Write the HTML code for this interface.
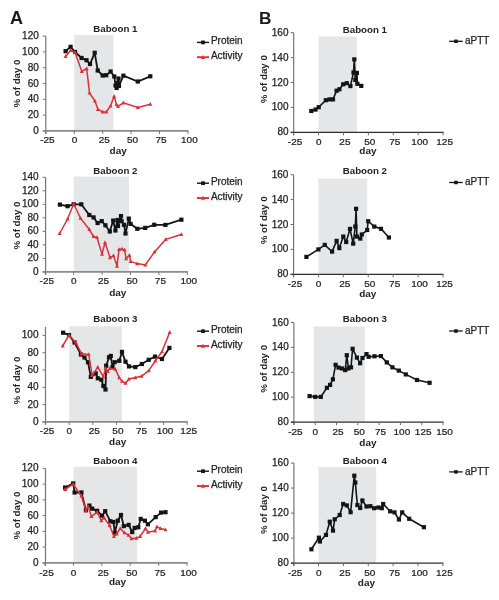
<!DOCTYPE html>
<html><head><meta charset="utf-8"><style>
html,body{margin:0;padding:0;background:#fff;}
svg{display:block;font-family:"Liberation Sans", sans-serif;will-change:transform;}
</style></head><body>
<svg width="499" height="600" viewBox="0 0 499 600">
<rect width="499" height="600" fill="#fff"/>
<rect x="74.30" y="35.00" width="39.10" height="95.90" fill="#e5e6e8"/>
<line x1="45.80" y1="36.10" x2="45.80" y2="133.90" stroke="#767676" stroke-width="1.2"/>
<line x1="42.80" y1="130.90" x2="45.80" y2="130.90" stroke="#767676" stroke-width="1"/>
<text transform="translate(38.80,133.90) scale(1,1)" font-size="10" font-weight="normal" text-anchor="end" fill="#222222" stroke="#222222" stroke-width="0.25" >0</text>
<line x1="42.80" y1="115.10" x2="45.80" y2="115.10" stroke="#767676" stroke-width="1"/>
<text transform="translate(38.80,118.10) scale(1,1)" font-size="10" font-weight="normal" text-anchor="end" fill="#222222" stroke="#222222" stroke-width="0.25" >20</text>
<line x1="42.80" y1="99.30" x2="45.80" y2="99.30" stroke="#767676" stroke-width="1"/>
<text transform="translate(38.80,102.30) scale(1,1)" font-size="10" font-weight="normal" text-anchor="end" fill="#222222" stroke="#222222" stroke-width="0.25" >40</text>
<line x1="42.80" y1="83.50" x2="45.80" y2="83.50" stroke="#767676" stroke-width="1"/>
<text transform="translate(38.80,86.50) scale(1,1)" font-size="10" font-weight="normal" text-anchor="end" fill="#222222" stroke="#222222" stroke-width="0.25" >60</text>
<line x1="42.80" y1="67.70" x2="45.80" y2="67.70" stroke="#767676" stroke-width="1"/>
<text transform="translate(38.80,70.70) scale(1,1)" font-size="10" font-weight="normal" text-anchor="end" fill="#222222" stroke="#222222" stroke-width="0.25" >80</text>
<line x1="42.80" y1="51.90" x2="45.80" y2="51.90" stroke="#767676" stroke-width="1"/>
<text transform="translate(38.80,54.90) scale(1,1)" font-size="10" font-weight="normal" text-anchor="end" fill="#222222" stroke="#222222" stroke-width="0.25" >100</text>
<line x1="42.80" y1="36.10" x2="45.80" y2="36.10" stroke="#767676" stroke-width="1"/>
<text transform="translate(38.80,39.10) scale(1,1)" font-size="10" font-weight="normal" text-anchor="end" fill="#222222" stroke="#222222" stroke-width="0.25" >120</text>
<line x1="42.80" y1="130.90" x2="188.40" y2="130.90" stroke="#8a8a8a" stroke-width="1.8"/>
<line x1="45.90" y1="130.90" x2="45.90" y2="133.90" stroke="#767676" stroke-width="1"/>
<text transform="translate(47.40,143.20) scale(1,0.95)" font-size="10" font-weight="normal" text-anchor="middle" fill="#222222" stroke="#222222" stroke-width="0.25" >-25</text>
<line x1="74.30" y1="130.90" x2="74.30" y2="133.90" stroke="#767676" stroke-width="1"/>
<text transform="translate(74.50,143.20) scale(1,0.95)" font-size="10" font-weight="normal" text-anchor="middle" fill="#222222" stroke="#222222" stroke-width="0.25" >0</text>
<line x1="102.70" y1="130.90" x2="102.70" y2="133.90" stroke="#767676" stroke-width="1"/>
<text transform="translate(104.20,143.20) scale(1,0.95)" font-size="10" font-weight="normal" text-anchor="middle" fill="#222222" stroke="#222222" stroke-width="0.25" >25</text>
<line x1="131.10" y1="130.90" x2="131.10" y2="133.90" stroke="#767676" stroke-width="1"/>
<text transform="translate(132.60,143.20) scale(1,0.95)" font-size="10" font-weight="normal" text-anchor="middle" fill="#222222" stroke="#222222" stroke-width="0.25" >50</text>
<line x1="159.50" y1="130.90" x2="159.50" y2="133.90" stroke="#767676" stroke-width="1"/>
<text transform="translate(161.00,143.20) scale(1,0.95)" font-size="10" font-weight="normal" text-anchor="middle" fill="#222222" stroke="#222222" stroke-width="0.25" >75</text>
<line x1="187.90" y1="130.90" x2="187.90" y2="133.90" stroke="#767676" stroke-width="1"/>
<text transform="translate(189.40,143.20) scale(1,0.95)" font-size="10" font-weight="normal" text-anchor="middle" fill="#222222" stroke="#222222" stroke-width="0.25" >100</text>
<text transform="translate(118.15,154.00) scale(1,0.95)" font-size="10" font-weight="bold" text-anchor="middle" fill="#222222" >day</text>
<text transform="translate(19.80,83.50) rotate(-90) scale(1,0.95)" font-size="9.7" font-weight="bold" text-anchor="middle" fill="#222222">% of day 0</text>
<text transform="translate(93.30,32.20) scale(1,1)" font-size="9.7" font-weight="bold" text-anchor="start" fill="#222222" >Baboon 1</text>
<polyline points="65.6,51.2 70.6,46.8 75.0,52.0 81.6,58.0 86.5,60.2 90.0,64.0 94.7,52.8 97.7,70.5 102.7,75.5 106.2,75.2 110.6,71.5 114.3,76.5 115.5,85.5 116.6,88.0 117.5,83.0 118.5,78.5 119.0,86.0 123.4,75.7 137.8,81.5 150.3,76.3" fill="none" stroke="#141414" stroke-width="1.8" stroke-linejoin="miter" stroke-miterlimit="3"/>
<rect x="63.50" y="49.10" width="4.20" height="4.20" fill="#141414"/>
<rect x="68.50" y="44.70" width="4.20" height="4.20" fill="#141414"/>
<rect x="72.90" y="49.90" width="4.20" height="4.20" fill="#141414"/>
<rect x="79.50" y="55.90" width="4.20" height="4.20" fill="#141414"/>
<rect x="84.40" y="58.10" width="4.20" height="4.20" fill="#141414"/>
<rect x="87.90" y="61.90" width="4.20" height="4.20" fill="#141414"/>
<rect x="92.60" y="50.70" width="4.20" height="4.20" fill="#141414"/>
<rect x="95.60" y="68.40" width="4.20" height="4.20" fill="#141414"/>
<rect x="100.60" y="73.40" width="4.20" height="4.20" fill="#141414"/>
<rect x="104.10" y="73.10" width="4.20" height="4.20" fill="#141414"/>
<rect x="108.50" y="69.40" width="4.20" height="4.20" fill="#141414"/>
<rect x="112.20" y="74.40" width="4.20" height="4.20" fill="#141414"/>
<rect x="113.40" y="83.40" width="4.20" height="4.20" fill="#141414"/>
<rect x="114.50" y="85.90" width="4.20" height="4.20" fill="#141414"/>
<rect x="115.40" y="80.90" width="4.20" height="4.20" fill="#141414"/>
<rect x="116.40" y="76.40" width="4.20" height="4.20" fill="#141414"/>
<rect x="116.90" y="83.90" width="4.20" height="4.20" fill="#141414"/>
<rect x="121.30" y="73.60" width="4.20" height="4.20" fill="#141414"/>
<rect x="135.70" y="79.40" width="4.20" height="4.20" fill="#141414"/>
<rect x="148.20" y="74.20" width="4.20" height="4.20" fill="#141414"/>
<polyline points="65.5,56.5 70.6,50.5 75.0,52.3 81.8,71.5 86.7,68.6 89.5,93.0 94.9,101.0 97.9,109.3 102.7,111.9 106.3,111.9 110.5,105.9 114.1,96.3 116.5,104.5 118.0,106.3 123.3,102.8 137.9,107.5 150.4,104.2" fill="none" stroke="#d9313b" stroke-width="1.5" stroke-linejoin="miter" stroke-miterlimit="3"/>
<polygon points="63.50,58.10 67.50,58.10 65.50,54.30" fill="#d9313b"/>
<polygon points="68.60,52.10 72.60,52.10 70.60,48.30" fill="#d9313b"/>
<polygon points="73.00,53.90 77.00,53.90 75.00,50.10" fill="#d9313b"/>
<polygon points="79.80,73.10 83.80,73.10 81.80,69.30" fill="#d9313b"/>
<polygon points="84.70,70.20 88.70,70.20 86.70,66.40" fill="#d9313b"/>
<polygon points="87.50,94.60 91.50,94.60 89.50,90.80" fill="#d9313b"/>
<polygon points="92.90,102.60 96.90,102.60 94.90,98.80" fill="#d9313b"/>
<polygon points="95.90,110.90 99.90,110.90 97.90,107.10" fill="#d9313b"/>
<polygon points="100.70,113.50 104.70,113.50 102.70,109.70" fill="#d9313b"/>
<polygon points="104.30,113.50 108.30,113.50 106.30,109.70" fill="#d9313b"/>
<polygon points="108.50,107.50 112.50,107.50 110.50,103.70" fill="#d9313b"/>
<polygon points="112.10,97.90 116.10,97.90 114.10,94.10" fill="#d9313b"/>
<polygon points="114.50,106.10 118.50,106.10 116.50,102.30" fill="#d9313b"/>
<polygon points="116.00,107.90 120.00,107.90 118.00,104.10" fill="#d9313b"/>
<polygon points="121.30,104.40 125.30,104.40 123.30,100.60" fill="#d9313b"/>
<polygon points="135.90,109.10 139.90,109.10 137.90,105.30" fill="#d9313b"/>
<polygon points="148.40,105.80 152.40,105.80 150.40,102.00" fill="#d9313b"/>
<line x1="197" y1="42.4" x2="209" y2="42.4" stroke="#141414" stroke-width="1.4"/>
<rect x="201.15" y="40.55" width="3.70" height="3.70" fill="#141414"/>
<text transform="translate(210.9,44.10) scale(1,1)" font-size="10" font-weight="normal" text-anchor="start" fill="#222222" stroke="#222222" stroke-width="0.25" >Protein</text>
<line x1="197" y1="57.2" x2="209" y2="57.2" stroke="#d9313b" stroke-width="1.9"/>
<polygon points="200.90,58.88 205.10,58.88 203.00,54.89" fill="#d9313b"/>
<text transform="translate(210.9,58.90) scale(1,1)" font-size="10" font-weight="normal" text-anchor="start" fill="#222222" stroke="#222222" stroke-width="0.25" >Activity</text>
<rect x="73.70" y="176.60" width="55.30" height="95.30" fill="#e5e6e8"/>
<line x1="45.60" y1="177.30" x2="45.60" y2="274.90" stroke="#767676" stroke-width="1.2"/>
<line x1="42.60" y1="271.90" x2="45.60" y2="271.90" stroke="#767676" stroke-width="1"/>
<text transform="translate(38.60,274.90) scale(1,1)" font-size="10" font-weight="normal" text-anchor="end" fill="#222222" stroke="#222222" stroke-width="0.25" >0</text>
<line x1="42.60" y1="258.39" x2="45.60" y2="258.39" stroke="#767676" stroke-width="1"/>
<text transform="translate(38.60,261.39) scale(1,1)" font-size="10" font-weight="normal" text-anchor="end" fill="#222222" stroke="#222222" stroke-width="0.25" >20</text>
<line x1="42.60" y1="244.87" x2="45.60" y2="244.87" stroke="#767676" stroke-width="1"/>
<text transform="translate(38.60,247.87) scale(1,1)" font-size="10" font-weight="normal" text-anchor="end" fill="#222222" stroke="#222222" stroke-width="0.25" >40</text>
<line x1="42.60" y1="231.36" x2="45.60" y2="231.36" stroke="#767676" stroke-width="1"/>
<text transform="translate(38.60,234.36) scale(1,1)" font-size="10" font-weight="normal" text-anchor="end" fill="#222222" stroke="#222222" stroke-width="0.25" >60</text>
<line x1="42.60" y1="217.84" x2="45.60" y2="217.84" stroke="#767676" stroke-width="1"/>
<text transform="translate(38.60,220.84) scale(1,1)" font-size="10" font-weight="normal" text-anchor="end" fill="#222222" stroke="#222222" stroke-width="0.25" >80</text>
<line x1="42.60" y1="204.33" x2="45.60" y2="204.33" stroke="#767676" stroke-width="1"/>
<text transform="translate(38.60,207.33) scale(1,1)" font-size="10" font-weight="normal" text-anchor="end" fill="#222222" stroke="#222222" stroke-width="0.25" >100</text>
<line x1="42.60" y1="190.82" x2="45.60" y2="190.82" stroke="#767676" stroke-width="1"/>
<text transform="translate(38.60,193.82) scale(1,1)" font-size="10" font-weight="normal" text-anchor="end" fill="#222222" stroke="#222222" stroke-width="0.25" >120</text>
<line x1="42.60" y1="177.30" x2="45.60" y2="177.30" stroke="#767676" stroke-width="1"/>
<text transform="translate(38.60,180.30) scale(1,1)" font-size="10" font-weight="normal" text-anchor="end" fill="#222222" stroke="#222222" stroke-width="0.25" >140</text>
<line x1="42.60" y1="271.90" x2="187.80" y2="271.90" stroke="#8a8a8a" stroke-width="1.8"/>
<line x1="45.30" y1="271.90" x2="45.30" y2="274.90" stroke="#767676" stroke-width="1"/>
<text transform="translate(46.80,284.40) scale(1,0.95)" font-size="10" font-weight="normal" text-anchor="middle" fill="#222222" stroke="#222222" stroke-width="0.25" >-25</text>
<line x1="73.70" y1="271.90" x2="73.70" y2="274.90" stroke="#767676" stroke-width="1"/>
<text transform="translate(73.90,284.40) scale(1,0.95)" font-size="10" font-weight="normal" text-anchor="middle" fill="#222222" stroke="#222222" stroke-width="0.25" >0</text>
<line x1="102.10" y1="271.90" x2="102.10" y2="274.90" stroke="#767676" stroke-width="1"/>
<text transform="translate(103.60,284.40) scale(1,0.95)" font-size="10" font-weight="normal" text-anchor="middle" fill="#222222" stroke="#222222" stroke-width="0.25" >25</text>
<line x1="130.50" y1="271.90" x2="130.50" y2="274.90" stroke="#767676" stroke-width="1"/>
<text transform="translate(132.00,284.40) scale(1,0.95)" font-size="10" font-weight="normal" text-anchor="middle" fill="#222222" stroke="#222222" stroke-width="0.25" >50</text>
<line x1="158.90" y1="271.90" x2="158.90" y2="274.90" stroke="#767676" stroke-width="1"/>
<text transform="translate(160.40,284.40) scale(1,0.95)" font-size="10" font-weight="normal" text-anchor="middle" fill="#222222" stroke="#222222" stroke-width="0.25" >75</text>
<line x1="187.30" y1="271.90" x2="187.30" y2="274.90" stroke="#767676" stroke-width="1"/>
<text transform="translate(188.80,284.40) scale(1,0.95)" font-size="10" font-weight="normal" text-anchor="middle" fill="#222222" stroke="#222222" stroke-width="0.25" >100</text>
<text transform="translate(117.75,296.00) scale(1,0.95)" font-size="10" font-weight="bold" text-anchor="middle" fill="#222222" >day</text>
<text transform="translate(19.80,225.60) rotate(-90) scale(1,0.95)" font-size="9.7" font-weight="bold" text-anchor="middle" fill="#222222">% of day 0</text>
<text transform="translate(93.30,173.50) scale(1,1)" font-size="9.7" font-weight="bold" text-anchor="start" fill="#222222" >Baboon 2</text>
<polyline points="59.9,204.6 67.6,206.2 73.7,204.3 81.3,204.3 89.3,215.0 93.6,217.4 97.6,223.0 101.7,221.1 105.4,225.3 109.8,231.5 113.2,220.6 115.4,230.5 117.4,220.0 118.0,226.0 121.0,216.1 121.6,221.2 124.0,224.8 125.5,233.5 128.8,218.6 130.6,223.9 137.3,228.8 145.2,227.9 154.2,224.8 165.4,224.9 181.4,219.7" fill="none" stroke="#141414" stroke-width="1.8" stroke-linejoin="miter" stroke-miterlimit="3"/>
<rect x="57.80" y="202.50" width="4.20" height="4.20" fill="#141414"/>
<rect x="65.50" y="204.10" width="4.20" height="4.20" fill="#141414"/>
<rect x="71.60" y="202.20" width="4.20" height="4.20" fill="#141414"/>
<rect x="79.20" y="202.20" width="4.20" height="4.20" fill="#141414"/>
<rect x="87.20" y="212.90" width="4.20" height="4.20" fill="#141414"/>
<rect x="91.50" y="215.30" width="4.20" height="4.20" fill="#141414"/>
<rect x="95.50" y="220.90" width="4.20" height="4.20" fill="#141414"/>
<rect x="99.60" y="219.00" width="4.20" height="4.20" fill="#141414"/>
<rect x="103.30" y="223.20" width="4.20" height="4.20" fill="#141414"/>
<rect x="107.70" y="229.40" width="4.20" height="4.20" fill="#141414"/>
<rect x="111.10" y="218.50" width="4.20" height="4.20" fill="#141414"/>
<rect x="113.30" y="228.40" width="4.20" height="4.20" fill="#141414"/>
<rect x="115.30" y="217.90" width="4.20" height="4.20" fill="#141414"/>
<rect x="115.90" y="223.90" width="4.20" height="4.20" fill="#141414"/>
<rect x="118.90" y="214.00" width="4.20" height="4.20" fill="#141414"/>
<rect x="119.50" y="219.10" width="4.20" height="4.20" fill="#141414"/>
<rect x="121.90" y="222.70" width="4.20" height="4.20" fill="#141414"/>
<rect x="123.40" y="231.40" width="4.20" height="4.20" fill="#141414"/>
<rect x="126.70" y="216.50" width="4.20" height="4.20" fill="#141414"/>
<rect x="128.50" y="221.80" width="4.20" height="4.20" fill="#141414"/>
<rect x="135.20" y="226.70" width="4.20" height="4.20" fill="#141414"/>
<rect x="143.10" y="225.80" width="4.20" height="4.20" fill="#141414"/>
<rect x="152.10" y="222.70" width="4.20" height="4.20" fill="#141414"/>
<rect x="163.30" y="222.80" width="4.20" height="4.20" fill="#141414"/>
<rect x="179.30" y="217.60" width="4.20" height="4.20" fill="#141414"/>
<polyline points="59.6,233.5 67.6,219.0 73.7,203.8 80.5,218.2 89.3,229.5 93.5,236.5 97.0,237.5 102.0,254.1 105.0,242.5 110.0,257.6 113.5,255.6 117.0,266.1 119.0,249.5 122.0,249.0 124.6,250.0 126.1,258.6 129.4,255.3 130.6,261.5 137.2,263.6 145.3,265.0 154.5,252.0 165.7,239.4 181.4,234.5" fill="none" stroke="#d9313b" stroke-width="1.5" stroke-linejoin="miter" stroke-miterlimit="3"/>
<polygon points="57.60,235.10 61.60,235.10 59.60,231.30" fill="#d9313b"/>
<polygon points="65.60,220.60 69.60,220.60 67.60,216.80" fill="#d9313b"/>
<polygon points="71.70,205.40 75.70,205.40 73.70,201.60" fill="#d9313b"/>
<polygon points="78.50,219.80 82.50,219.80 80.50,216.00" fill="#d9313b"/>
<polygon points="87.30,231.10 91.30,231.10 89.30,227.30" fill="#d9313b"/>
<polygon points="91.50,238.10 95.50,238.10 93.50,234.30" fill="#d9313b"/>
<polygon points="95.00,239.10 99.00,239.10 97.00,235.30" fill="#d9313b"/>
<polygon points="100.00,255.70 104.00,255.70 102.00,251.90" fill="#d9313b"/>
<polygon points="103.00,244.10 107.00,244.10 105.00,240.30" fill="#d9313b"/>
<polygon points="108.00,259.20 112.00,259.20 110.00,255.40" fill="#d9313b"/>
<polygon points="111.50,257.20 115.50,257.20 113.50,253.40" fill="#d9313b"/>
<polygon points="115.00,267.70 119.00,267.70 117.00,263.90" fill="#d9313b"/>
<polygon points="117.00,251.10 121.00,251.10 119.00,247.30" fill="#d9313b"/>
<polygon points="120.00,250.60 124.00,250.60 122.00,246.80" fill="#d9313b"/>
<polygon points="122.60,251.60 126.60,251.60 124.60,247.80" fill="#d9313b"/>
<polygon points="124.10,260.20 128.10,260.20 126.10,256.40" fill="#d9313b"/>
<polygon points="127.40,256.90 131.40,256.90 129.40,253.10" fill="#d9313b"/>
<polygon points="128.60,263.10 132.60,263.10 130.60,259.30" fill="#d9313b"/>
<polygon points="135.20,265.20 139.20,265.20 137.20,261.40" fill="#d9313b"/>
<polygon points="143.30,266.60 147.30,266.60 145.30,262.80" fill="#d9313b"/>
<polygon points="152.50,253.60 156.50,253.60 154.50,249.80" fill="#d9313b"/>
<polygon points="163.70,241.00 167.70,241.00 165.70,237.20" fill="#d9313b"/>
<polygon points="179.40,236.10 183.40,236.10 181.40,232.30" fill="#d9313b"/>
<line x1="197" y1="183.2" x2="209" y2="183.2" stroke="#141414" stroke-width="1.4"/>
<rect x="201.15" y="181.35" width="3.70" height="3.70" fill="#141414"/>
<text transform="translate(210.9,184.90) scale(1,1)" font-size="10" font-weight="normal" text-anchor="start" fill="#222222" stroke="#222222" stroke-width="0.25" >Protein</text>
<line x1="197" y1="198.0" x2="209" y2="198.0" stroke="#d9313b" stroke-width="1.9"/>
<polygon points="200.90,199.68 205.10,199.68 203.00,195.69" fill="#d9313b"/>
<text transform="translate(210.9,199.70) scale(1,1)" font-size="10" font-weight="normal" text-anchor="start" fill="#222222" stroke="#222222" stroke-width="0.25" >Activity</text>
<rect x="69.20" y="326.20" width="52.80" height="95.70" fill="#e5e6e8"/>
<line x1="45.50" y1="326.80" x2="45.50" y2="424.90" stroke="#767676" stroke-width="1.2"/>
<line x1="42.50" y1="421.90" x2="45.50" y2="421.90" stroke="#767676" stroke-width="1"/>
<text transform="translate(38.50,424.90) scale(1,1)" font-size="10" font-weight="normal" text-anchor="end" fill="#222222" stroke="#222222" stroke-width="0.25" >0</text>
<line x1="42.50" y1="404.60" x2="45.50" y2="404.60" stroke="#767676" stroke-width="1"/>
<text transform="translate(38.50,407.60) scale(1,1)" font-size="10" font-weight="normal" text-anchor="end" fill="#222222" stroke="#222222" stroke-width="0.25" >20</text>
<line x1="42.50" y1="387.30" x2="45.50" y2="387.30" stroke="#767676" stroke-width="1"/>
<text transform="translate(38.50,390.30) scale(1,1)" font-size="10" font-weight="normal" text-anchor="end" fill="#222222" stroke="#222222" stroke-width="0.25" >40</text>
<line x1="42.50" y1="370.00" x2="45.50" y2="370.00" stroke="#767676" stroke-width="1"/>
<text transform="translate(38.50,373.00) scale(1,1)" font-size="10" font-weight="normal" text-anchor="end" fill="#222222" stroke="#222222" stroke-width="0.25" >60</text>
<line x1="42.50" y1="352.70" x2="45.50" y2="352.70" stroke="#767676" stroke-width="1"/>
<text transform="translate(38.50,355.70) scale(1,1)" font-size="10" font-weight="normal" text-anchor="end" fill="#222222" stroke="#222222" stroke-width="0.25" >80</text>
<line x1="42.50" y1="335.40" x2="45.50" y2="335.40" stroke="#767676" stroke-width="1"/>
<text transform="translate(38.50,338.40) scale(1,1)" font-size="10" font-weight="normal" text-anchor="end" fill="#222222" stroke="#222222" stroke-width="0.25" >100</text>
<line x1="42.50" y1="421.90" x2="187.70" y2="421.90" stroke="#8a8a8a" stroke-width="1.8"/>
<line x1="45.60" y1="421.90" x2="45.60" y2="424.90" stroke="#767676" stroke-width="1"/>
<text transform="translate(47.10,434.20) scale(1,0.95)" font-size="10" font-weight="normal" text-anchor="middle" fill="#222222" stroke="#222222" stroke-width="0.25" >-25</text>
<line x1="69.20" y1="421.90" x2="69.20" y2="424.90" stroke="#767676" stroke-width="1"/>
<text transform="translate(69.40,434.20) scale(1,0.95)" font-size="10" font-weight="normal" text-anchor="middle" fill="#222222" stroke="#222222" stroke-width="0.25" >0</text>
<line x1="92.80" y1="421.90" x2="92.80" y2="424.90" stroke="#767676" stroke-width="1"/>
<text transform="translate(94.30,434.20) scale(1,0.95)" font-size="10" font-weight="normal" text-anchor="middle" fill="#222222" stroke="#222222" stroke-width="0.25" >25</text>
<line x1="116.40" y1="421.90" x2="116.40" y2="424.90" stroke="#767676" stroke-width="1"/>
<text transform="translate(117.90,434.20) scale(1,0.95)" font-size="10" font-weight="normal" text-anchor="middle" fill="#222222" stroke="#222222" stroke-width="0.25" >50</text>
<line x1="140.00" y1="421.90" x2="140.00" y2="424.90" stroke="#767676" stroke-width="1"/>
<text transform="translate(141.50,434.20) scale(1,0.95)" font-size="10" font-weight="normal" text-anchor="middle" fill="#222222" stroke="#222222" stroke-width="0.25" >75</text>
<line x1="163.60" y1="421.90" x2="163.60" y2="424.90" stroke="#767676" stroke-width="1"/>
<text transform="translate(165.10,434.20) scale(1,0.95)" font-size="10" font-weight="normal" text-anchor="middle" fill="#222222" stroke="#222222" stroke-width="0.25" >100</text>
<line x1="187.20" y1="421.90" x2="187.20" y2="424.90" stroke="#767676" stroke-width="1"/>
<text transform="translate(188.70,434.20) scale(1,0.95)" font-size="10" font-weight="normal" text-anchor="middle" fill="#222222" stroke="#222222" stroke-width="0.25" >125</text>
<text transform="translate(117.65,444.60) scale(1,0.95)" font-size="10" font-weight="bold" text-anchor="middle" fill="#222222" >day</text>
<text transform="translate(19.80,380.50) rotate(-90) scale(1,0.95)" font-size="9.7" font-weight="bold" text-anchor="middle" fill="#222222">% of day 0</text>
<text transform="translate(93.30,322.40) scale(1,1)" font-size="9.7" font-weight="bold" text-anchor="start" fill="#222222" >Baboon 3</text>
<polyline points="63.1,332.7 69.0,335.1 74.6,342.5 80.9,354.5 84.5,357.5 88.0,362.2 90.8,376.9 95.7,373.4 97.8,378.3 101.3,379.7 103.4,386.0 105.5,389.5 106.2,365.7 109.0,357.3 110.8,355.9 112.5,367.1 114.6,362.2 119.3,360.8 122.0,351.9 125.5,361.7 129.0,366.4 135.3,367.1 141.9,364.0 148.7,359.8 155.0,356.6 162.0,359.0 169.4,347.9" fill="none" stroke="#141414" stroke-width="1.8" stroke-linejoin="miter" stroke-miterlimit="3"/>
<rect x="61.00" y="330.60" width="4.20" height="4.20" fill="#141414"/>
<rect x="66.90" y="333.00" width="4.20" height="4.20" fill="#141414"/>
<rect x="72.50" y="340.40" width="4.20" height="4.20" fill="#141414"/>
<rect x="78.80" y="352.40" width="4.20" height="4.20" fill="#141414"/>
<rect x="82.40" y="355.40" width="4.20" height="4.20" fill="#141414"/>
<rect x="85.90" y="360.10" width="4.20" height="4.20" fill="#141414"/>
<rect x="88.70" y="374.80" width="4.20" height="4.20" fill="#141414"/>
<rect x="93.60" y="371.30" width="4.20" height="4.20" fill="#141414"/>
<rect x="95.70" y="376.20" width="4.20" height="4.20" fill="#141414"/>
<rect x="99.20" y="377.60" width="4.20" height="4.20" fill="#141414"/>
<rect x="101.30" y="383.90" width="4.20" height="4.20" fill="#141414"/>
<rect x="103.40" y="387.40" width="4.20" height="4.20" fill="#141414"/>
<rect x="104.10" y="363.60" width="4.20" height="4.20" fill="#141414"/>
<rect x="106.90" y="355.20" width="4.20" height="4.20" fill="#141414"/>
<rect x="108.70" y="353.80" width="4.20" height="4.20" fill="#141414"/>
<rect x="110.40" y="365.00" width="4.20" height="4.20" fill="#141414"/>
<rect x="112.50" y="360.10" width="4.20" height="4.20" fill="#141414"/>
<rect x="117.20" y="358.70" width="4.20" height="4.20" fill="#141414"/>
<rect x="119.90" y="349.80" width="4.20" height="4.20" fill="#141414"/>
<rect x="123.40" y="359.60" width="4.20" height="4.20" fill="#141414"/>
<rect x="126.90" y="364.30" width="4.20" height="4.20" fill="#141414"/>
<rect x="133.20" y="365.00" width="4.20" height="4.20" fill="#141414"/>
<rect x="139.80" y="361.90" width="4.20" height="4.20" fill="#141414"/>
<rect x="146.60" y="357.70" width="4.20" height="4.20" fill="#141414"/>
<rect x="152.90" y="354.50" width="4.20" height="4.20" fill="#141414"/>
<rect x="159.90" y="356.90" width="4.20" height="4.20" fill="#141414"/>
<rect x="167.30" y="345.80" width="4.20" height="4.20" fill="#141414"/>
<polyline points="62.7,346.0 69.0,335.1 76.0,343.0 81.6,353.8 88.7,354.5 92.2,375.5 97.8,367.1 103.4,376.9 105.5,368.5 107.6,371.3 109.7,368.5 115.3,369.2 119.2,377.6 122.0,381.1 125.5,383.2 129.0,379.0 135.3,377.6 141.6,376.2 148.7,370.6 155.4,360.8 162.0,351.6 169.7,332.3" fill="none" stroke="#d9313b" stroke-width="1.5" stroke-linejoin="miter" stroke-miterlimit="3"/>
<polygon points="60.70,347.60 64.70,347.60 62.70,343.80" fill="#d9313b"/>
<polygon points="67.00,336.70 71.00,336.70 69.00,332.90" fill="#d9313b"/>
<polygon points="74.00,344.60 78.00,344.60 76.00,340.80" fill="#d9313b"/>
<polygon points="79.60,355.40 83.60,355.40 81.60,351.60" fill="#d9313b"/>
<polygon points="86.70,356.10 90.70,356.10 88.70,352.30" fill="#d9313b"/>
<polygon points="90.20,377.10 94.20,377.10 92.20,373.30" fill="#d9313b"/>
<polygon points="95.80,368.70 99.80,368.70 97.80,364.90" fill="#d9313b"/>
<polygon points="101.40,378.50 105.40,378.50 103.40,374.70" fill="#d9313b"/>
<polygon points="103.50,370.10 107.50,370.10 105.50,366.30" fill="#d9313b"/>
<polygon points="105.60,372.90 109.60,372.90 107.60,369.10" fill="#d9313b"/>
<polygon points="107.70,370.10 111.70,370.10 109.70,366.30" fill="#d9313b"/>
<polygon points="113.30,370.80 117.30,370.80 115.30,367.00" fill="#d9313b"/>
<polygon points="117.20,379.20 121.20,379.20 119.20,375.40" fill="#d9313b"/>
<polygon points="120.00,382.70 124.00,382.70 122.00,378.90" fill="#d9313b"/>
<polygon points="123.50,384.80 127.50,384.80 125.50,381.00" fill="#d9313b"/>
<polygon points="127.00,380.60 131.00,380.60 129.00,376.80" fill="#d9313b"/>
<polygon points="133.30,379.20 137.30,379.20 135.30,375.40" fill="#d9313b"/>
<polygon points="139.60,377.80 143.60,377.80 141.60,374.00" fill="#d9313b"/>
<polygon points="146.70,372.20 150.70,372.20 148.70,368.40" fill="#d9313b"/>
<polygon points="153.40,362.40 157.40,362.40 155.40,358.60" fill="#d9313b"/>
<polygon points="160.00,353.20 164.00,353.20 162.00,349.40" fill="#d9313b"/>
<polygon points="167.70,333.90 171.70,333.90 169.70,330.10" fill="#d9313b"/>
<line x1="197" y1="331.2" x2="209" y2="331.2" stroke="#141414" stroke-width="1.4"/>
<rect x="201.15" y="329.35" width="3.70" height="3.70" fill="#141414"/>
<text transform="translate(210.9,332.90) scale(1,1)" font-size="10" font-weight="normal" text-anchor="start" fill="#222222" stroke="#222222" stroke-width="0.25" >Protein</text>
<line x1="197" y1="346.0" x2="209" y2="346.0" stroke="#d9313b" stroke-width="1.9"/>
<polygon points="200.90,347.68 205.10,347.68 203.00,343.69" fill="#d9313b"/>
<text transform="translate(210.9,347.70) scale(1,1)" font-size="10" font-weight="normal" text-anchor="start" fill="#222222" stroke="#222222" stroke-width="0.25" >Activity</text>
<rect x="73.40" y="466.80" width="63.70" height="96.00" fill="#e5e6e8"/>
<line x1="45.50" y1="468.40" x2="45.50" y2="565.80" stroke="#767676" stroke-width="1.2"/>
<line x1="42.50" y1="562.80" x2="45.50" y2="562.80" stroke="#767676" stroke-width="1"/>
<text transform="translate(38.50,565.80) scale(1,1)" font-size="10" font-weight="normal" text-anchor="end" fill="#222222" stroke="#222222" stroke-width="0.25" >0</text>
<line x1="42.50" y1="547.07" x2="45.50" y2="547.07" stroke="#767676" stroke-width="1"/>
<text transform="translate(38.50,550.07) scale(1,1)" font-size="10" font-weight="normal" text-anchor="end" fill="#222222" stroke="#222222" stroke-width="0.25" >20</text>
<line x1="42.50" y1="531.33" x2="45.50" y2="531.33" stroke="#767676" stroke-width="1"/>
<text transform="translate(38.50,534.33) scale(1,1)" font-size="10" font-weight="normal" text-anchor="end" fill="#222222" stroke="#222222" stroke-width="0.25" >40</text>
<line x1="42.50" y1="515.60" x2="45.50" y2="515.60" stroke="#767676" stroke-width="1"/>
<text transform="translate(38.50,518.60) scale(1,1)" font-size="10" font-weight="normal" text-anchor="end" fill="#222222" stroke="#222222" stroke-width="0.25" >60</text>
<line x1="42.50" y1="499.86" x2="45.50" y2="499.86" stroke="#767676" stroke-width="1"/>
<text transform="translate(38.50,502.86) scale(1,1)" font-size="10" font-weight="normal" text-anchor="end" fill="#222222" stroke="#222222" stroke-width="0.25" >80</text>
<line x1="42.50" y1="484.13" x2="45.50" y2="484.13" stroke="#767676" stroke-width="1"/>
<text transform="translate(38.50,487.13) scale(1,1)" font-size="10" font-weight="normal" text-anchor="end" fill="#222222" stroke="#222222" stroke-width="0.25" >100</text>
<line x1="42.50" y1="468.40" x2="45.50" y2="468.40" stroke="#767676" stroke-width="1"/>
<text transform="translate(38.50,471.40) scale(1,1)" font-size="10" font-weight="normal" text-anchor="end" fill="#222222" stroke="#222222" stroke-width="0.25" >120</text>
<line x1="42.50" y1="562.80" x2="187.50" y2="562.80" stroke="#8a8a8a" stroke-width="1.8"/>
<line x1="45.00" y1="562.80" x2="45.00" y2="565.80" stroke="#767676" stroke-width="1"/>
<text transform="translate(46.50,575.60) scale(1,0.95)" font-size="10" font-weight="normal" text-anchor="middle" fill="#222222" stroke="#222222" stroke-width="0.25" >-25</text>
<line x1="73.40" y1="562.80" x2="73.40" y2="565.80" stroke="#767676" stroke-width="1"/>
<text transform="translate(73.60,575.60) scale(1,0.95)" font-size="10" font-weight="normal" text-anchor="middle" fill="#222222" stroke="#222222" stroke-width="0.25" >0</text>
<line x1="101.80" y1="562.80" x2="101.80" y2="565.80" stroke="#767676" stroke-width="1"/>
<text transform="translate(103.30,575.60) scale(1,0.95)" font-size="10" font-weight="normal" text-anchor="middle" fill="#222222" stroke="#222222" stroke-width="0.25" >25</text>
<line x1="130.20" y1="562.80" x2="130.20" y2="565.80" stroke="#767676" stroke-width="1"/>
<text transform="translate(131.70,575.60) scale(1,0.95)" font-size="10" font-weight="normal" text-anchor="middle" fill="#222222" stroke="#222222" stroke-width="0.25" >50</text>
<line x1="158.60" y1="562.80" x2="158.60" y2="565.80" stroke="#767676" stroke-width="1"/>
<text transform="translate(160.10,575.60) scale(1,0.95)" font-size="10" font-weight="normal" text-anchor="middle" fill="#222222" stroke="#222222" stroke-width="0.25" >75</text>
<line x1="187.00" y1="562.80" x2="187.00" y2="565.80" stroke="#767676" stroke-width="1"/>
<text transform="translate(188.50,575.60) scale(1,0.95)" font-size="10" font-weight="normal" text-anchor="middle" fill="#222222" stroke="#222222" stroke-width="0.25" >100</text>
<text transform="translate(117.55,585.40) scale(1,0.95)" font-size="10" font-weight="bold" text-anchor="middle" fill="#222222" >day</text>
<text transform="translate(19.80,515.60) rotate(-90) scale(1,0.95)" font-size="9.7" font-weight="bold" text-anchor="middle" fill="#222222">% of day 0</text>
<text transform="translate(93.30,463.60) scale(1,1)" font-size="9.7" font-weight="bold" text-anchor="start" fill="#222222" >Baboon 4</text>
<polyline points="65.1,487.6 73.2,483.4 74.6,492.5 81.4,492.5 85.9,510.1 89.4,505.6 92.2,508.7 97.1,510.8 102.0,515.7 105.2,511.2 110.4,521.3 113.5,522.0 114.8,532.6 117.8,520.7 121.0,515.0 123.8,526.1 128.6,524.9 132.2,532.1 134.6,527.9 138.3,527.3 140.7,518.9 144.9,520.7 147.9,524.3 155.7,517.1 161.1,512.6 165.5,512.2" fill="none" stroke="#141414" stroke-width="1.8" stroke-linejoin="miter" stroke-miterlimit="3"/>
<rect x="63.00" y="485.50" width="4.20" height="4.20" fill="#141414"/>
<rect x="71.10" y="481.30" width="4.20" height="4.20" fill="#141414"/>
<rect x="72.50" y="490.40" width="4.20" height="4.20" fill="#141414"/>
<rect x="79.30" y="490.40" width="4.20" height="4.20" fill="#141414"/>
<rect x="83.80" y="508.00" width="4.20" height="4.20" fill="#141414"/>
<rect x="87.30" y="503.50" width="4.20" height="4.20" fill="#141414"/>
<rect x="90.10" y="506.60" width="4.20" height="4.20" fill="#141414"/>
<rect x="95.00" y="508.70" width="4.20" height="4.20" fill="#141414"/>
<rect x="99.90" y="513.60" width="4.20" height="4.20" fill="#141414"/>
<rect x="103.10" y="509.10" width="4.20" height="4.20" fill="#141414"/>
<rect x="108.30" y="519.20" width="4.20" height="4.20" fill="#141414"/>
<rect x="111.40" y="519.90" width="4.20" height="4.20" fill="#141414"/>
<rect x="112.70" y="530.50" width="4.20" height="4.20" fill="#141414"/>
<rect x="115.70" y="518.60" width="4.20" height="4.20" fill="#141414"/>
<rect x="118.90" y="512.90" width="4.20" height="4.20" fill="#141414"/>
<rect x="121.70" y="524.00" width="4.20" height="4.20" fill="#141414"/>
<rect x="126.50" y="522.80" width="4.20" height="4.20" fill="#141414"/>
<rect x="130.10" y="530.00" width="4.20" height="4.20" fill="#141414"/>
<rect x="132.50" y="525.80" width="4.20" height="4.20" fill="#141414"/>
<rect x="136.20" y="525.20" width="4.20" height="4.20" fill="#141414"/>
<rect x="138.60" y="516.80" width="4.20" height="4.20" fill="#141414"/>
<rect x="142.80" y="518.60" width="4.20" height="4.20" fill="#141414"/>
<rect x="145.80" y="522.20" width="4.20" height="4.20" fill="#141414"/>
<rect x="153.60" y="515.00" width="4.20" height="4.20" fill="#141414"/>
<rect x="159.00" y="510.50" width="4.20" height="4.20" fill="#141414"/>
<rect x="163.40" y="510.10" width="4.20" height="4.20" fill="#141414"/>
<polyline points="65.1,489.3 73.2,484.1 81.4,496.0 85.9,510.8 88.0,506.6 91.5,516.4 97.1,512.2 101.3,520.6 104.1,517.8 109.7,525.5 113.9,536.5 116.7,533.9 120.2,528.5 124.4,532.7 128.6,535.1 131.6,538.7 136.5,538.1 140.1,536.3 145.5,528.5 147.9,532.1 155.1,530.9 156.9,526.7 160.5,528.5 165.5,529.7" fill="none" stroke="#d9313b" stroke-width="1.5" stroke-linejoin="miter" stroke-miterlimit="3"/>
<polygon points="63.10,490.90 67.10,490.90 65.10,487.10" fill="#d9313b"/>
<polygon points="71.20,485.70 75.20,485.70 73.20,481.90" fill="#d9313b"/>
<polygon points="79.40,497.60 83.40,497.60 81.40,493.80" fill="#d9313b"/>
<polygon points="83.90,512.40 87.90,512.40 85.90,508.60" fill="#d9313b"/>
<polygon points="86.00,508.20 90.00,508.20 88.00,504.40" fill="#d9313b"/>
<polygon points="89.50,518.00 93.50,518.00 91.50,514.20" fill="#d9313b"/>
<polygon points="95.10,513.80 99.10,513.80 97.10,510.00" fill="#d9313b"/>
<polygon points="99.30,522.20 103.30,522.20 101.30,518.40" fill="#d9313b"/>
<polygon points="102.10,519.40 106.10,519.40 104.10,515.60" fill="#d9313b"/>
<polygon points="107.70,527.10 111.70,527.10 109.70,523.30" fill="#d9313b"/>
<polygon points="111.90,538.10 115.90,538.10 113.90,534.30" fill="#d9313b"/>
<polygon points="114.70,535.50 118.70,535.50 116.70,531.70" fill="#d9313b"/>
<polygon points="118.20,530.10 122.20,530.10 120.20,526.30" fill="#d9313b"/>
<polygon points="122.40,534.30 126.40,534.30 124.40,530.50" fill="#d9313b"/>
<polygon points="126.60,536.70 130.60,536.70 128.60,532.90" fill="#d9313b"/>
<polygon points="129.60,540.30 133.60,540.30 131.60,536.50" fill="#d9313b"/>
<polygon points="134.50,539.70 138.50,539.70 136.50,535.90" fill="#d9313b"/>
<polygon points="138.10,537.90 142.10,537.90 140.10,534.10" fill="#d9313b"/>
<polygon points="143.50,530.10 147.50,530.10 145.50,526.30" fill="#d9313b"/>
<polygon points="145.90,533.70 149.90,533.70 147.90,529.90" fill="#d9313b"/>
<polygon points="153.10,532.50 157.10,532.50 155.10,528.70" fill="#d9313b"/>
<polygon points="154.90,528.30 158.90,528.30 156.90,524.50" fill="#d9313b"/>
<polygon points="158.50,530.10 162.50,530.10 160.50,526.30" fill="#d9313b"/>
<polygon points="163.50,531.30 167.50,531.30 165.50,527.50" fill="#d9313b"/>
<line x1="197" y1="471.2" x2="209" y2="471.2" stroke="#141414" stroke-width="1.4"/>
<rect x="201.15" y="469.35" width="3.70" height="3.70" fill="#141414"/>
<text transform="translate(210.9,472.90) scale(1,1)" font-size="10" font-weight="normal" text-anchor="start" fill="#222222" stroke="#222222" stroke-width="0.25" >Protein</text>
<line x1="197" y1="486.0" x2="209" y2="486.0" stroke="#d9313b" stroke-width="1.9"/>
<polygon points="200.90,487.68 205.10,487.68 203.00,483.69" fill="#d9313b"/>
<text transform="translate(210.9,487.70) scale(1,1)" font-size="10" font-weight="normal" text-anchor="start" fill="#222222" stroke="#222222" stroke-width="0.25" >Activity</text>
<rect x="318.50" y="36.50" width="38.40" height="95.80" fill="#e5e6e8"/>
<line x1="293.70" y1="32.70" x2="293.70" y2="135.30" stroke="#6a6a6a" stroke-width="1.1"/>
<line x1="290.70" y1="132.30" x2="293.70" y2="132.30" stroke="#6a6a6a" stroke-width="1"/>
<text transform="translate(288.50,135.30) scale(1,1)" font-size="10" font-weight="normal" text-anchor="end" fill="#222222" stroke="#222222" stroke-width="0.25" >80</text>
<line x1="290.70" y1="107.40" x2="293.70" y2="107.40" stroke="#6a6a6a" stroke-width="1"/>
<text transform="translate(288.50,110.40) scale(1,1)" font-size="10" font-weight="normal" text-anchor="end" fill="#222222" stroke="#222222" stroke-width="0.25" >100</text>
<line x1="290.70" y1="82.50" x2="293.70" y2="82.50" stroke="#6a6a6a" stroke-width="1"/>
<text transform="translate(288.50,85.50) scale(1,1)" font-size="10" font-weight="normal" text-anchor="end" fill="#222222" stroke="#222222" stroke-width="0.25" >120</text>
<line x1="290.70" y1="57.60" x2="293.70" y2="57.60" stroke="#6a6a6a" stroke-width="1"/>
<text transform="translate(288.50,60.60) scale(1,1)" font-size="10" font-weight="normal" text-anchor="end" fill="#222222" stroke="#222222" stroke-width="0.25" >140</text>
<line x1="290.70" y1="32.70" x2="293.70" y2="32.70" stroke="#6a6a6a" stroke-width="1"/>
<text transform="translate(288.50,35.70) scale(1,1)" font-size="10" font-weight="normal" text-anchor="end" fill="#222222" stroke="#222222" stroke-width="0.25" >160</text>
<line x1="290.70" y1="132.30" x2="443.62" y2="132.30" stroke="#2e2e2e" stroke-width="1.2"/>
<line x1="293.57" y1="132.30" x2="293.57" y2="135.30" stroke="#6a6a6a" stroke-width="1"/>
<text transform="translate(295.07,145.00) scale(1,0.95)" font-size="10" font-weight="normal" text-anchor="middle" fill="#222222" stroke="#222222" stroke-width="0.25" >-25</text>
<line x1="318.50" y1="132.30" x2="318.50" y2="135.30" stroke="#6a6a6a" stroke-width="1"/>
<text transform="translate(318.70,145.00) scale(1,0.95)" font-size="10" font-weight="normal" text-anchor="middle" fill="#222222" stroke="#222222" stroke-width="0.25" >0</text>
<line x1="343.43" y1="132.30" x2="343.43" y2="135.30" stroke="#6a6a6a" stroke-width="1"/>
<text transform="translate(344.93,145.00) scale(1,0.95)" font-size="10" font-weight="normal" text-anchor="middle" fill="#222222" stroke="#222222" stroke-width="0.25" >25</text>
<line x1="368.35" y1="132.30" x2="368.35" y2="135.30" stroke="#6a6a6a" stroke-width="1"/>
<text transform="translate(369.85,145.00) scale(1,0.95)" font-size="10" font-weight="normal" text-anchor="middle" fill="#222222" stroke="#222222" stroke-width="0.25" >50</text>
<line x1="393.27" y1="132.30" x2="393.27" y2="135.30" stroke="#6a6a6a" stroke-width="1"/>
<text transform="translate(394.77,145.00) scale(1,0.95)" font-size="10" font-weight="normal" text-anchor="middle" fill="#222222" stroke="#222222" stroke-width="0.25" >75</text>
<line x1="418.20" y1="132.30" x2="418.20" y2="135.30" stroke="#6a6a6a" stroke-width="1"/>
<text transform="translate(419.70,145.00) scale(1,0.95)" font-size="10" font-weight="normal" text-anchor="middle" fill="#222222" stroke="#222222" stroke-width="0.25" >100</text>
<line x1="443.12" y1="132.30" x2="443.12" y2="135.30" stroke="#6a6a6a" stroke-width="1"/>
<text transform="translate(444.62,145.00) scale(1,0.95)" font-size="10" font-weight="normal" text-anchor="middle" fill="#222222" stroke="#222222" stroke-width="0.25" >125</text>
<text transform="translate(367.91,153.60) scale(1,0.95)" font-size="10" font-weight="bold" text-anchor="middle" fill="#222222" >day</text>
<text transform="translate(267.00,79.20) rotate(-90) scale(1,0.95)" font-size="9.7" font-weight="bold" text-anchor="middle" fill="#222222">% of day 0</text>
<text transform="translate(342.80,32.50) scale(1,1)" font-size="9.7" font-weight="bold" text-anchor="start" fill="#222222" >Baboon 1</text>
<polyline points="311.3,111.0 315.5,109.6 318.7,107.2 325.8,100.2 329.5,99.4 333.0,99.4 336.6,90.7 339.4,89.3 343.2,84.3 346.8,83.2 350.4,86.1 353.5,72.5 354.3,59.4 355.3,80.0 356.9,72.9 357.4,83.8 361.3,85.9" fill="none" stroke="#141414" stroke-width="1.6" stroke-linejoin="miter" stroke-miterlimit="3"/>
<rect x="309.20" y="108.90" width="4.20" height="4.20" fill="#141414"/>
<rect x="313.40" y="107.50" width="4.20" height="4.20" fill="#141414"/>
<rect x="316.60" y="105.10" width="4.20" height="4.20" fill="#141414"/>
<rect x="323.70" y="98.10" width="4.20" height="4.20" fill="#141414"/>
<rect x="327.40" y="97.30" width="4.20" height="4.20" fill="#141414"/>
<rect x="330.90" y="97.30" width="4.20" height="4.20" fill="#141414"/>
<rect x="334.50" y="88.60" width="4.20" height="4.20" fill="#141414"/>
<rect x="337.30" y="87.20" width="4.20" height="4.20" fill="#141414"/>
<rect x="341.10" y="82.20" width="4.20" height="4.20" fill="#141414"/>
<rect x="344.70" y="81.10" width="4.20" height="4.20" fill="#141414"/>
<rect x="348.30" y="84.00" width="4.20" height="4.20" fill="#141414"/>
<rect x="351.40" y="70.40" width="4.20" height="4.20" fill="#141414"/>
<rect x="352.20" y="57.30" width="4.20" height="4.20" fill="#141414"/>
<rect x="353.20" y="77.90" width="4.20" height="4.20" fill="#141414"/>
<rect x="354.80" y="70.80" width="4.20" height="4.20" fill="#141414"/>
<rect x="355.30" y="81.70" width="4.20" height="4.20" fill="#141414"/>
<rect x="359.20" y="83.80" width="4.20" height="4.20" fill="#141414"/>
<line x1="449.2" y1="41.3" x2="462.7" y2="41.3" stroke="#141414" stroke-width="1.3"/>
<rect x="454.20" y="39.55" width="3.50" height="3.50" fill="#141414"/>
<text transform="translate(465.0,44.00) scale(1,1)" font-size="10" font-weight="normal" text-anchor="start" fill="#222222" stroke="#222222" stroke-width="0.25" >aPTT</text>
<rect x="318.40" y="178.50" width="48.80" height="95.80" fill="#e5e6e8"/>
<line x1="293.60" y1="174.70" x2="293.60" y2="277.30" stroke="#6a6a6a" stroke-width="1.1"/>
<line x1="290.60" y1="274.30" x2="293.60" y2="274.30" stroke="#6a6a6a" stroke-width="1"/>
<text transform="translate(288.40,277.30) scale(1,1)" font-size="10" font-weight="normal" text-anchor="end" fill="#222222" stroke="#222222" stroke-width="0.25" >80</text>
<line x1="290.60" y1="249.40" x2="293.60" y2="249.40" stroke="#6a6a6a" stroke-width="1"/>
<text transform="translate(288.40,252.40) scale(1,1)" font-size="10" font-weight="normal" text-anchor="end" fill="#222222" stroke="#222222" stroke-width="0.25" >100</text>
<line x1="290.60" y1="224.50" x2="293.60" y2="224.50" stroke="#6a6a6a" stroke-width="1"/>
<text transform="translate(288.40,227.50) scale(1,1)" font-size="10" font-weight="normal" text-anchor="end" fill="#222222" stroke="#222222" stroke-width="0.25" >120</text>
<line x1="290.60" y1="199.60" x2="293.60" y2="199.60" stroke="#6a6a6a" stroke-width="1"/>
<text transform="translate(288.40,202.60) scale(1,1)" font-size="10" font-weight="normal" text-anchor="end" fill="#222222" stroke="#222222" stroke-width="0.25" >140</text>
<line x1="290.60" y1="174.70" x2="293.60" y2="174.70" stroke="#6a6a6a" stroke-width="1"/>
<text transform="translate(288.40,177.70) scale(1,1)" font-size="10" font-weight="normal" text-anchor="end" fill="#222222" stroke="#222222" stroke-width="0.25" >160</text>
<line x1="290.60" y1="274.30" x2="443.52" y2="274.30" stroke="#2e2e2e" stroke-width="1.2"/>
<line x1="293.47" y1="274.30" x2="293.47" y2="277.30" stroke="#6a6a6a" stroke-width="1"/>
<text transform="translate(294.97,287.10) scale(1,0.95)" font-size="10" font-weight="normal" text-anchor="middle" fill="#222222" stroke="#222222" stroke-width="0.25" >-25</text>
<line x1="318.40" y1="274.30" x2="318.40" y2="277.30" stroke="#6a6a6a" stroke-width="1"/>
<text transform="translate(318.60,287.10) scale(1,0.95)" font-size="10" font-weight="normal" text-anchor="middle" fill="#222222" stroke="#222222" stroke-width="0.25" >0</text>
<line x1="343.32" y1="274.30" x2="343.32" y2="277.30" stroke="#6a6a6a" stroke-width="1"/>
<text transform="translate(344.82,287.10) scale(1,0.95)" font-size="10" font-weight="normal" text-anchor="middle" fill="#222222" stroke="#222222" stroke-width="0.25" >25</text>
<line x1="368.25" y1="274.30" x2="368.25" y2="277.30" stroke="#6a6a6a" stroke-width="1"/>
<text transform="translate(369.75,287.10) scale(1,0.95)" font-size="10" font-weight="normal" text-anchor="middle" fill="#222222" stroke="#222222" stroke-width="0.25" >50</text>
<line x1="393.17" y1="274.30" x2="393.17" y2="277.30" stroke="#6a6a6a" stroke-width="1"/>
<text transform="translate(394.67,287.10) scale(1,0.95)" font-size="10" font-weight="normal" text-anchor="middle" fill="#222222" stroke="#222222" stroke-width="0.25" >75</text>
<line x1="418.10" y1="274.30" x2="418.10" y2="277.30" stroke="#6a6a6a" stroke-width="1"/>
<text transform="translate(419.60,287.10) scale(1,0.95)" font-size="10" font-weight="normal" text-anchor="middle" fill="#222222" stroke="#222222" stroke-width="0.25" >100</text>
<line x1="443.02" y1="274.30" x2="443.02" y2="277.30" stroke="#6a6a6a" stroke-width="1"/>
<text transform="translate(444.52,287.10) scale(1,0.95)" font-size="10" font-weight="normal" text-anchor="middle" fill="#222222" stroke="#222222" stroke-width="0.25" >125</text>
<text transform="translate(367.81,296.60) scale(1,0.95)" font-size="10" font-weight="bold" text-anchor="middle" fill="#222222" >day</text>
<text transform="translate(267.00,220.30) rotate(-90) scale(1,0.95)" font-size="9.7" font-weight="bold" text-anchor="middle" fill="#222222">% of day 0</text>
<text transform="translate(342.80,173.50) scale(1,1)" font-size="9.7" font-weight="bold" text-anchor="start" fill="#222222" >Baboon 2</text>
<polyline points="306.4,256.9 318.4,249.4 324.8,244.9 332.1,251.6 336.6,240.9 339.3,248.1 343.3,236.6 346.2,242.0 350.0,228.9 353.2,243.6 355.3,226.5 356.1,208.8 356.9,236.6 360.3,238.6 361.8,234.5 367.2,230.0 368.2,221.2 374.3,226.6 381.0,228.8 388.9,237.5" fill="none" stroke="#141414" stroke-width="1.6" stroke-linejoin="miter" stroke-miterlimit="3"/>
<rect x="304.30" y="254.80" width="4.20" height="4.20" fill="#141414"/>
<rect x="316.30" y="247.30" width="4.20" height="4.20" fill="#141414"/>
<rect x="322.70" y="242.80" width="4.20" height="4.20" fill="#141414"/>
<rect x="330.00" y="249.50" width="4.20" height="4.20" fill="#141414"/>
<rect x="334.50" y="238.80" width="4.20" height="4.20" fill="#141414"/>
<rect x="337.20" y="246.00" width="4.20" height="4.20" fill="#141414"/>
<rect x="341.20" y="234.50" width="4.20" height="4.20" fill="#141414"/>
<rect x="344.10" y="239.90" width="4.20" height="4.20" fill="#141414"/>
<rect x="347.90" y="226.80" width="4.20" height="4.20" fill="#141414"/>
<rect x="351.10" y="241.50" width="4.20" height="4.20" fill="#141414"/>
<rect x="353.20" y="224.40" width="4.20" height="4.20" fill="#141414"/>
<rect x="354.00" y="206.70" width="4.20" height="4.20" fill="#141414"/>
<rect x="354.80" y="234.50" width="4.20" height="4.20" fill="#141414"/>
<rect x="358.20" y="236.50" width="4.20" height="4.20" fill="#141414"/>
<rect x="359.70" y="232.40" width="4.20" height="4.20" fill="#141414"/>
<rect x="365.10" y="227.90" width="4.20" height="4.20" fill="#141414"/>
<rect x="366.10" y="219.10" width="4.20" height="4.20" fill="#141414"/>
<rect x="372.20" y="224.50" width="4.20" height="4.20" fill="#141414"/>
<rect x="378.90" y="226.70" width="4.20" height="4.20" fill="#141414"/>
<rect x="386.80" y="235.40" width="4.20" height="4.20" fill="#141414"/>
<line x1="449.2" y1="182.5" x2="462.7" y2="182.5" stroke="#141414" stroke-width="1.3"/>
<rect x="454.20" y="180.75" width="3.50" height="3.50" fill="#141414"/>
<text transform="translate(465.0,185.20) scale(1,1)" font-size="10" font-weight="normal" text-anchor="start" fill="#222222" stroke="#222222" stroke-width="0.25" >aPTT</text>
<rect x="313.70" y="326.40" width="51.20" height="95.70" fill="#e5e6e8"/>
<line x1="293.90" y1="322.50" x2="293.90" y2="425.10" stroke="#6a6a6a" stroke-width="1.1"/>
<line x1="290.90" y1="422.10" x2="293.90" y2="422.10" stroke="#6a6a6a" stroke-width="1"/>
<text transform="translate(288.70,425.10) scale(1,1)" font-size="10" font-weight="normal" text-anchor="end" fill="#222222" stroke="#222222" stroke-width="0.25" >80</text>
<line x1="290.90" y1="397.20" x2="293.90" y2="397.20" stroke="#6a6a6a" stroke-width="1"/>
<text transform="translate(288.70,400.20) scale(1,1)" font-size="10" font-weight="normal" text-anchor="end" fill="#222222" stroke="#222222" stroke-width="0.25" >100</text>
<line x1="290.90" y1="372.30" x2="293.90" y2="372.30" stroke="#6a6a6a" stroke-width="1"/>
<text transform="translate(288.70,375.30) scale(1,1)" font-size="10" font-weight="normal" text-anchor="end" fill="#222222" stroke="#222222" stroke-width="0.25" >120</text>
<line x1="290.90" y1="347.40" x2="293.90" y2="347.40" stroke="#6a6a6a" stroke-width="1"/>
<text transform="translate(288.70,350.40) scale(1,1)" font-size="10" font-weight="normal" text-anchor="end" fill="#222222" stroke="#222222" stroke-width="0.25" >140</text>
<line x1="290.90" y1="322.50" x2="293.90" y2="322.50" stroke="#6a6a6a" stroke-width="1"/>
<text transform="translate(288.70,325.50) scale(1,1)" font-size="10" font-weight="normal" text-anchor="end" fill="#222222" stroke="#222222" stroke-width="0.25" >160</text>
<line x1="290.90" y1="422.10" x2="443.50" y2="422.10" stroke="#2e2e2e" stroke-width="1.2"/>
<line x1="293.90" y1="422.10" x2="293.90" y2="425.10" stroke="#6a6a6a" stroke-width="1"/>
<text transform="translate(295.40,434.80) scale(1,0.95)" font-size="10" font-weight="normal" text-anchor="middle" fill="#222222" stroke="#222222" stroke-width="0.25" >-25</text>
<line x1="315.20" y1="422.10" x2="315.20" y2="425.10" stroke="#6a6a6a" stroke-width="1"/>
<text transform="translate(315.40,434.80) scale(1,0.95)" font-size="10" font-weight="normal" text-anchor="middle" fill="#222222" stroke="#222222" stroke-width="0.25" >0</text>
<line x1="336.50" y1="422.10" x2="336.50" y2="425.10" stroke="#6a6a6a" stroke-width="1"/>
<text transform="translate(338.00,434.80) scale(1,0.95)" font-size="10" font-weight="normal" text-anchor="middle" fill="#222222" stroke="#222222" stroke-width="0.25" >25</text>
<line x1="357.80" y1="422.10" x2="357.80" y2="425.10" stroke="#6a6a6a" stroke-width="1"/>
<text transform="translate(359.30,434.80) scale(1,0.95)" font-size="10" font-weight="normal" text-anchor="middle" fill="#222222" stroke="#222222" stroke-width="0.25" >50</text>
<line x1="379.10" y1="422.10" x2="379.10" y2="425.10" stroke="#6a6a6a" stroke-width="1"/>
<text transform="translate(380.60,434.80) scale(1,0.95)" font-size="10" font-weight="normal" text-anchor="middle" fill="#222222" stroke="#222222" stroke-width="0.25" >75</text>
<line x1="400.40" y1="422.10" x2="400.40" y2="425.10" stroke="#6a6a6a" stroke-width="1"/>
<text transform="translate(401.90,434.80) scale(1,0.95)" font-size="10" font-weight="normal" text-anchor="middle" fill="#222222" stroke="#222222" stroke-width="0.25" >100</text>
<line x1="421.70" y1="422.10" x2="421.70" y2="425.10" stroke="#6a6a6a" stroke-width="1"/>
<text transform="translate(423.20,434.80) scale(1,0.95)" font-size="10" font-weight="normal" text-anchor="middle" fill="#222222" stroke="#222222" stroke-width="0.25" >125</text>
<line x1="443.00" y1="422.10" x2="443.00" y2="425.10" stroke="#6a6a6a" stroke-width="1"/>
<text transform="translate(444.50,434.80) scale(1,0.95)" font-size="10" font-weight="normal" text-anchor="middle" fill="#222222" stroke="#222222" stroke-width="0.25" >150</text>
<text transform="translate(367.95,445.90) scale(1,0.95)" font-size="10" font-weight="bold" text-anchor="middle" fill="#222222" >day</text>
<text transform="translate(267.00,368.90) rotate(-90) scale(1,0.95)" font-size="9.7" font-weight="bold" text-anchor="middle" fill="#222222">% of day 0</text>
<text transform="translate(342.80,322.40) scale(1,1)" font-size="9.7" font-weight="bold" text-anchor="start" fill="#222222" >Baboon 3</text>
<polyline points="309.6,396.1 315.2,396.9 320.8,396.9 326.9,387.8 330.1,384.9 332.9,379.3 335.6,364.8 338.5,367.6 342.0,368.5 345.2,370.1 346.8,355.2 348.4,368.5 351.0,367.3 352.6,348.8 356.9,357.6 360.1,363.2 362.5,358.0 366.5,354.1 368.6,356.8 374.5,356.3 380.9,356.1 386.8,362.4 392.4,367.3 398.8,370.6 405.8,374.4 417.0,380.0 429.6,382.8" fill="none" stroke="#141414" stroke-width="1.6" stroke-linejoin="miter" stroke-miterlimit="3"/>
<rect x="307.50" y="394.00" width="4.20" height="4.20" fill="#141414"/>
<rect x="313.10" y="394.80" width="4.20" height="4.20" fill="#141414"/>
<rect x="318.70" y="394.80" width="4.20" height="4.20" fill="#141414"/>
<rect x="324.80" y="385.70" width="4.20" height="4.20" fill="#141414"/>
<rect x="328.00" y="382.80" width="4.20" height="4.20" fill="#141414"/>
<rect x="330.80" y="377.20" width="4.20" height="4.20" fill="#141414"/>
<rect x="333.50" y="362.70" width="4.20" height="4.20" fill="#141414"/>
<rect x="336.40" y="365.50" width="4.20" height="4.20" fill="#141414"/>
<rect x="339.90" y="366.40" width="4.20" height="4.20" fill="#141414"/>
<rect x="343.10" y="368.00" width="4.20" height="4.20" fill="#141414"/>
<rect x="344.70" y="353.10" width="4.20" height="4.20" fill="#141414"/>
<rect x="346.30" y="366.40" width="4.20" height="4.20" fill="#141414"/>
<rect x="348.90" y="365.20" width="4.20" height="4.20" fill="#141414"/>
<rect x="350.50" y="346.70" width="4.20" height="4.20" fill="#141414"/>
<rect x="354.80" y="355.50" width="4.20" height="4.20" fill="#141414"/>
<rect x="358.00" y="361.10" width="4.20" height="4.20" fill="#141414"/>
<rect x="360.40" y="355.90" width="4.20" height="4.20" fill="#141414"/>
<rect x="364.40" y="352.00" width="4.20" height="4.20" fill="#141414"/>
<rect x="366.50" y="354.70" width="4.20" height="4.20" fill="#141414"/>
<rect x="372.40" y="354.20" width="4.20" height="4.20" fill="#141414"/>
<rect x="378.80" y="354.00" width="4.20" height="4.20" fill="#141414"/>
<rect x="384.70" y="360.30" width="4.20" height="4.20" fill="#141414"/>
<rect x="390.30" y="365.20" width="4.20" height="4.20" fill="#141414"/>
<rect x="396.70" y="368.50" width="4.20" height="4.20" fill="#141414"/>
<rect x="403.70" y="372.30" width="4.20" height="4.20" fill="#141414"/>
<rect x="414.90" y="377.90" width="4.20" height="4.20" fill="#141414"/>
<rect x="427.50" y="380.70" width="4.20" height="4.20" fill="#141414"/>
<line x1="449.2" y1="331.0" x2="462.7" y2="331.0" stroke="#141414" stroke-width="1.3"/>
<rect x="454.20" y="329.25" width="3.50" height="3.50" fill="#141414"/>
<text transform="translate(465.0,333.70) scale(1,1)" font-size="10" font-weight="normal" text-anchor="start" fill="#222222" stroke="#222222" stroke-width="0.25" >aPTT</text>
<rect x="318.50" y="467.00" width="57.70" height="96.10" fill="#e5e6e8"/>
<line x1="293.90" y1="463.10" x2="293.90" y2="566.10" stroke="#6a6a6a" stroke-width="1.1"/>
<line x1="290.90" y1="563.10" x2="293.90" y2="563.10" stroke="#6a6a6a" stroke-width="1"/>
<text transform="translate(288.70,566.10) scale(1,1)" font-size="10" font-weight="normal" text-anchor="end" fill="#222222" stroke="#222222" stroke-width="0.25" >80</text>
<line x1="290.90" y1="538.10" x2="293.90" y2="538.10" stroke="#6a6a6a" stroke-width="1"/>
<text transform="translate(288.70,541.10) scale(1,1)" font-size="10" font-weight="normal" text-anchor="end" fill="#222222" stroke="#222222" stroke-width="0.25" >100</text>
<line x1="290.90" y1="513.10" x2="293.90" y2="513.10" stroke="#6a6a6a" stroke-width="1"/>
<text transform="translate(288.70,516.10) scale(1,1)" font-size="10" font-weight="normal" text-anchor="end" fill="#222222" stroke="#222222" stroke-width="0.25" >120</text>
<line x1="290.90" y1="488.10" x2="293.90" y2="488.10" stroke="#6a6a6a" stroke-width="1"/>
<text transform="translate(288.70,491.10) scale(1,1)" font-size="10" font-weight="normal" text-anchor="end" fill="#222222" stroke="#222222" stroke-width="0.25" >140</text>
<line x1="290.90" y1="463.10" x2="293.90" y2="463.10" stroke="#6a6a6a" stroke-width="1"/>
<text transform="translate(288.70,466.10) scale(1,1)" font-size="10" font-weight="normal" text-anchor="end" fill="#222222" stroke="#222222" stroke-width="0.25" >160</text>
<line x1="290.90" y1="563.10" x2="443.38" y2="563.10" stroke="#2e2e2e" stroke-width="1.2"/>
<line x1="293.62" y1="563.10" x2="293.62" y2="566.10" stroke="#6a6a6a" stroke-width="1"/>
<text transform="translate(295.12,575.80) scale(1,0.95)" font-size="10" font-weight="normal" text-anchor="middle" fill="#222222" stroke="#222222" stroke-width="0.25" >-25</text>
<line x1="318.50" y1="563.10" x2="318.50" y2="566.10" stroke="#6a6a6a" stroke-width="1"/>
<text transform="translate(318.70,575.80) scale(1,0.95)" font-size="10" font-weight="normal" text-anchor="middle" fill="#222222" stroke="#222222" stroke-width="0.25" >0</text>
<line x1="343.38" y1="563.10" x2="343.38" y2="566.10" stroke="#6a6a6a" stroke-width="1"/>
<text transform="translate(344.88,575.80) scale(1,0.95)" font-size="10" font-weight="normal" text-anchor="middle" fill="#222222" stroke="#222222" stroke-width="0.25" >25</text>
<line x1="368.25" y1="563.10" x2="368.25" y2="566.10" stroke="#6a6a6a" stroke-width="1"/>
<text transform="translate(369.75,575.80) scale(1,0.95)" font-size="10" font-weight="normal" text-anchor="middle" fill="#222222" stroke="#222222" stroke-width="0.25" >50</text>
<line x1="393.12" y1="563.10" x2="393.12" y2="566.10" stroke="#6a6a6a" stroke-width="1"/>
<text transform="translate(394.62,575.80) scale(1,0.95)" font-size="10" font-weight="normal" text-anchor="middle" fill="#222222" stroke="#222222" stroke-width="0.25" >75</text>
<line x1="418.00" y1="563.10" x2="418.00" y2="566.10" stroke="#6a6a6a" stroke-width="1"/>
<text transform="translate(419.50,575.80) scale(1,0.95)" font-size="10" font-weight="normal" text-anchor="middle" fill="#222222" stroke="#222222" stroke-width="0.25" >100</text>
<line x1="442.88" y1="563.10" x2="442.88" y2="566.10" stroke="#6a6a6a" stroke-width="1"/>
<text transform="translate(444.38,575.80) scale(1,0.95)" font-size="10" font-weight="normal" text-anchor="middle" fill="#222222" stroke="#222222" stroke-width="0.25" >125</text>
<text transform="translate(366.39,585.90) scale(1,0.95)" font-size="10" font-weight="bold" text-anchor="middle" fill="#222222" >day</text>
<text transform="translate(267.00,510.00) rotate(-90) scale(1,0.95)" font-size="9.7" font-weight="bold" text-anchor="middle" fill="#222222">% of day 0</text>
<text transform="translate(342.80,463.60) scale(1,1)" font-size="9.7" font-weight="bold" text-anchor="start" fill="#222222" >Baboon 4</text>
<polyline points="311.4,549.3 318.9,537.7 319.9,541.5 326.0,534.9 329.8,521.7 333.0,530.6 334.7,519.3 339.7,515.0 343.2,504.0 346.8,505.4 350.6,512.2 354.3,475.7 355.3,482.5 357.4,505.1 360.2,508.0 362.4,500.5 366.5,506.5 370.4,506.2 374.1,508.2 378.3,507.5 381.8,508.2 383.2,504.0 390.2,511.3 394.5,512.4 398.9,519.5 402.2,512.4 409.2,518.8 423.9,527.2" fill="none" stroke="#141414" stroke-width="1.6" stroke-linejoin="miter" stroke-miterlimit="3"/>
<rect x="309.30" y="547.20" width="4.20" height="4.20" fill="#141414"/>
<rect x="316.80" y="535.60" width="4.20" height="4.20" fill="#141414"/>
<rect x="317.80" y="539.40" width="4.20" height="4.20" fill="#141414"/>
<rect x="323.90" y="532.80" width="4.20" height="4.20" fill="#141414"/>
<rect x="327.70" y="519.60" width="4.20" height="4.20" fill="#141414"/>
<rect x="330.90" y="528.50" width="4.20" height="4.20" fill="#141414"/>
<rect x="332.60" y="517.20" width="4.20" height="4.20" fill="#141414"/>
<rect x="337.60" y="512.90" width="4.20" height="4.20" fill="#141414"/>
<rect x="341.10" y="501.90" width="4.20" height="4.20" fill="#141414"/>
<rect x="344.70" y="503.30" width="4.20" height="4.20" fill="#141414"/>
<rect x="348.50" y="510.10" width="4.20" height="4.20" fill="#141414"/>
<rect x="352.20" y="473.60" width="4.20" height="4.20" fill="#141414"/>
<rect x="353.20" y="480.40" width="4.20" height="4.20" fill="#141414"/>
<rect x="355.30" y="503.00" width="4.20" height="4.20" fill="#141414"/>
<rect x="358.10" y="505.90" width="4.20" height="4.20" fill="#141414"/>
<rect x="360.30" y="498.40" width="4.20" height="4.20" fill="#141414"/>
<rect x="364.40" y="504.40" width="4.20" height="4.20" fill="#141414"/>
<rect x="368.30" y="504.10" width="4.20" height="4.20" fill="#141414"/>
<rect x="372.00" y="506.10" width="4.20" height="4.20" fill="#141414"/>
<rect x="376.20" y="505.40" width="4.20" height="4.20" fill="#141414"/>
<rect x="379.70" y="506.10" width="4.20" height="4.20" fill="#141414"/>
<rect x="381.10" y="501.90" width="4.20" height="4.20" fill="#141414"/>
<rect x="388.10" y="509.20" width="4.20" height="4.20" fill="#141414"/>
<rect x="392.40" y="510.30" width="4.20" height="4.20" fill="#141414"/>
<rect x="396.80" y="517.40" width="4.20" height="4.20" fill="#141414"/>
<rect x="400.10" y="510.30" width="4.20" height="4.20" fill="#141414"/>
<rect x="407.10" y="516.70" width="4.20" height="4.20" fill="#141414"/>
<rect x="421.80" y="525.10" width="4.20" height="4.20" fill="#141414"/>
<line x1="449.2" y1="471.9" x2="462.7" y2="471.9" stroke="#141414" stroke-width="1.3"/>
<rect x="454.20" y="470.15" width="3.50" height="3.50" fill="#141414"/>
<text transform="translate(465.0,474.60) scale(1,1)" font-size="10" font-weight="normal" text-anchor="start" fill="#222222" stroke="#222222" stroke-width="0.25" >aPTT</text>
<text transform="translate(10.0,24.3) scale(1,1)" font-size="18" font-weight="bold" text-anchor="start" fill="#1a1a1a" >A</text>
<text transform="translate(259.1,24.2) scale(1,1)" font-size="17.3" font-weight="bold" text-anchor="start" fill="#1a1a1a" >B</text>
</svg></body></html>
